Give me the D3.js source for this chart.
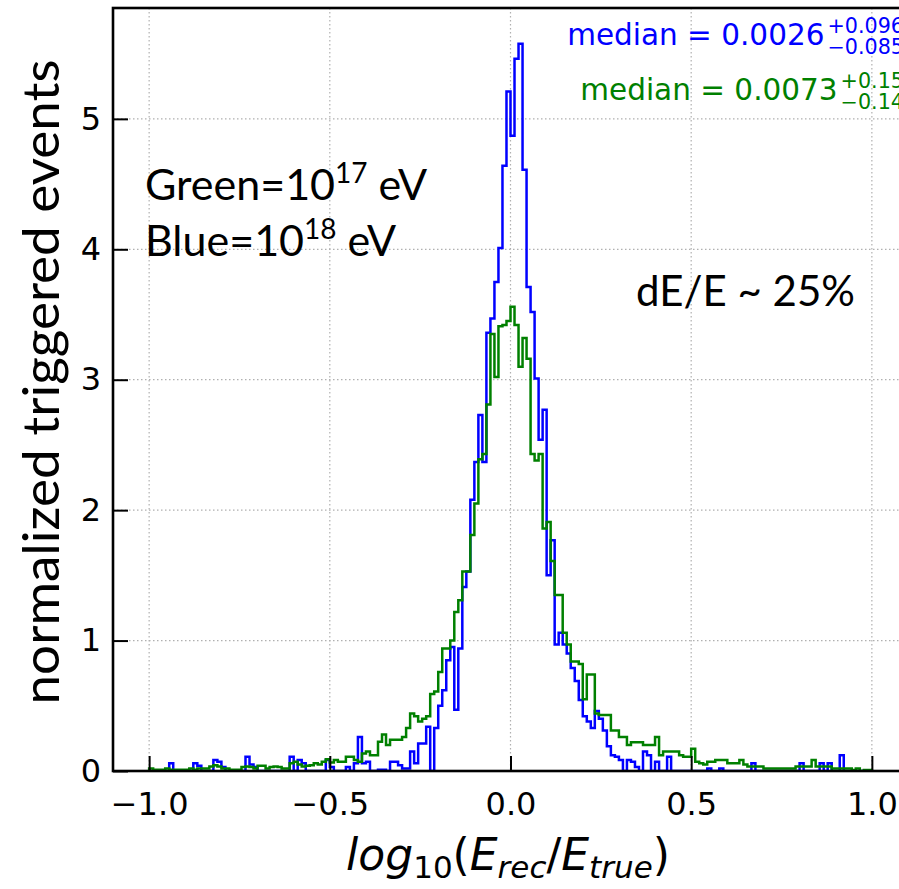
<!DOCTYPE html>
<html>
<head>
<meta charset="utf-8">
<script src="https://cdn.jsdelivr.net/npm/d3@7"></script>
<style>
  body { margin: 0; background: #fff; }
  .tick text { font-family: "DejaVu Sans", sans-serif; }
</style>
</head>
<body>
<div id="chart"></div>
<script>
// 180 equal bins between -1 and 1
let binLow = -1.0;
let binHigh = 1.0;

let blueCounts = [
  0, 0, 0, 0, 0, 0.06, 0, 0, 0, 0,
  0, 0.06, 0.04, 0, 0, 0, 0.085, 0.07, 0.03, 0,
  0, 0, 0, 0, 0.11, 0.05, 0.03, 0, 0, 0,
  0, 0, 0, 0, 0, 0.11, 0, 0.085, 0.06, 0,
  0, 0, 0, 0, 0.085, 0.03, 0, 0, 0, 0.03,
  0, 0.06, 0.26, 0.06, 0.07, 0, 0, 0.01, 0.01, 0,
  0.07, 0.07, 0.045, 0.02, 0.02, 0.15, 0.06, 0.21, 0.21, 0.34,
  0, 0.33, 0.5, 0.62, 0.85, 0.95, 0.47, 0.94, 1.41, 1.53,
  2.08, 2.37, 2.73, 2.37, 3.36, 3.47, 3.75, 4.01, 4.64, 5.21,
  4.87, 5.46, 5.575, 4.61, 3.71, 3.52, 3.01, 2.54, 2.77, 1.50,
  1.77, 0.97, 1.06, 0.97, 0.90, 0.79, 0.69, 0.545, 0.42, 0.38,
  0.33, 0.46, 0.40, 0.31, 0.19, 0.12, 0.11, 0.085, 0, 0.085,
  0.07, 0.03, 0, 0.15, 0.12, 0, 0.07, 0, 0, 0.11,
  0, 0, 0, 0, 0, 0, 0, 0, 0, 0.02,
  0, 0, 0.02, 0, 0, 0, 0, 0, 0, 0,
  0.06, 0, 0, 0, 0, 0, 0, 0, 0, 0,
  0, 0, 0.06, 0, 0, 0, 0, 0.06, 0, 0.06,
  0, 0, 0.12, 0, 0, 0, 0, 0, 0, 0
];

let greenCounts = [
  0.02, 0.01, 0.01, 0.01, 0.02, 0.01, 0.01, 0.01, 0.01, 0.01,
  0.02, 0.01, 0.02, 0.02, 0.02, 0.035, 0.045, 0.035, 0.02, 0.02,
  0.01, 0.01, 0.01, 0.03, 0.035, 0.03, 0.02, 0.04, 0.04, 0.02,
  0.03, 0.035, 0.03, 0.02, 0.02, 0.06, 0.07, 0.05, 0.035, 0.04,
  0.045, 0.06, 0.05, 0.07, 0.09, 0.065, 0.085, 0.07, 0.07, 0.11,
  0.11, 0.085, 0.07, 0.135, 0.15, 0.12, 0.12, 0.225, 0.28, 0.20,
  0.24, 0.24, 0.24, 0.26, 0.33, 0.44, 0.42, 0.38, 0.40, 0.42,
  0.59, 0.61, 0.76, 0.94, 0.94, 1.0, 1.22, 1.31, 1.53, 1.53,
  1.81, 2.05, 2.39, 2.43, 2.81, 3.35, 3.02, 3.41, 3.42, 3.45,
  3.56, 3.42, 3.10, 3.32, 3.16, 2.43, 2.38, 2.43, 1.86, 1.91,
  1.61, 1.35, 1.35, 1.06, 0.97, 0.84, 0.84, 0.82, 0.55, 0.74,
  0.74, 0.44, 0.43, 0.43, 0.43, 0.31, 0.31, 0.26, 0.26, 0.20,
  0.22, 0.22, 0.22, 0.20, 0.20, 0.20, 0.26, 0.12, 0.15, 0.15,
  0.15, 0.15, 0.12, 0.11, 0.11, 0.17, 0.07, 0.06, 0.05, 0.07,
  0.07, 0.085, 0.085, 0.085, 0.06, 0.06, 0.06, 0.085, 0.05, 0.035,
  0.035, 0.035, 0.035, 0.02, 0.02, 0.02, 0.02, 0.02, 0.02, 0.02,
  0.02, 0.035, 0.035, 0.035, 0.035, 0.085, 0.035, 0.035, 0.035, 0.035,
  0.02, 0.02, 0.02, 0.02, 0.02, 0.008, 0.02, 0, 0.008, 0.008
];

let xTicks = [-1.0, -0.5, 0.0, 0.5, 1.0];
let yTicks = [0, 1, 2, 3, 4, 5];

let blueMedian = {value: '0.0026', plus: '+0.096', minus: '\u22120.085'};
let greenMedian = {value: '0.0073', plus: '+0.15', minus: '\u22120.14'};

let blueColor = '#0000ff';
let greenColor = '#008000';

let W = 899, H = 889;
let plot = {left: 113, top: 8, right: 908, bottom: 771};

let svg = d3.select('#chart')
    .append('svg')
    .attr('width', W)
    .attr('height', H);

let xScale = d3.scaleLinear().domain([-1.1, 1.1]).range([plot.left, plot.right]);
let yScale = d3.scaleLinear().domain([0, 5.85]).range([plot.bottom, plot.top]);

svg.append('clipPath').attr('id', 'plotClip')
    .append('rect')
    .attr('x', plot.left).attr('y', plot.top)
    .attr('width', plot.right - plot.left)
    .attr('height', plot.bottom - plot.top);

//dotted grid
let grid = svg.append('g').attr('clip-path', 'url(#plotClip)');
grid.selectAll('line.gx')
    .data(xTicks)
    .enter()
    .append('line')
    .attr('x1', function(d) {return xScale(d)})
    .attr('x2', function(d) {return xScale(d)})
    .attr('y1', plot.top)
    .attr('y2', plot.bottom);
grid.selectAll('line.gy')
    .data(yTicks.slice(1))
    .enter()
    .append('line')
    .attr('x1', plot.left)
    .attr('x2', plot.right)
    .attr('y1', function(d) {return yScale(d)})
    .attr('y2', function(d) {return yScale(d)});
grid.selectAll('line')
    .attr('stroke', '#b0b0b0')
    .attr('stroke-width', 1.2)
    .attr('stroke-dasharray', '1.5,2.5');

//step outline of a histogram, starting and ending on the baseline
let edges = d3.range(blueCounts.length + 1)
    .map(function(i) {return binLow + i * (binHigh - binLow) / blueCounts.length});

let stepPoints = function(counts) {
    let pts = [[edges[0], 0]];
    counts.forEach(function(c, i) {
        pts.push([edges[i], c]);
        pts.push([edges[i + 1], c]);
    });
    pts.push([edges[counts.length], 0]);
    return pts;
};

let line = d3.line()
    .x(function(d) {return xScale(d[0])})
    .y(function(d) {return yScale(d[1])});

let hist = svg.append('g').attr('clip-path', 'url(#plotClip)');
hist.append('path')
    .attr('d', line(stepPoints(blueCounts)))
    .attr('fill', 'none')
    .attr('stroke', blueColor)
    .attr('stroke-width', 2.5)
    .attr('stroke-linejoin', 'miter');
hist.append('path')
    .attr('d', line(stepPoints(greenCounts)))
    .attr('fill', 'none')
    .attr('stroke', greenColor)
    .attr('stroke-width', 2.5)
    .attr('stroke-linejoin', 'miter');

//axes with inward ticks
let xAxis = svg.append('g')
    .attr('transform', 'translate(0,' + plot.bottom + ')')
    .call(d3.axisBottom(xScale).tickValues(xTicks).tickSize(-15).tickPadding(21)
        .tickFormat(d3.format('.1f')));
let yAxis = svg.append('g')
    .attr('transform', 'translate(' + plot.left + ',0)')
    .call(d3.axisLeft(yScale).tickValues(yTicks).tickSize(-15).tickPadding(12)
        .tickFormat(d3.format('d')));
[xAxis, yAxis].forEach(function(ax) {
    ax.select('.domain').remove();
    ax.selectAll('.tick line').attr('stroke', '#000').attr('stroke-width', 2);
    ax.selectAll('.tick text').attr('font-size', 32).attr('fill', '#000');
});

//frame (right side falls outside the picture)
svg.append('rect')
    .attr('x', plot.left).attr('y', plot.top)
    .attr('width', plot.right - plot.left)
    .attr('height', plot.bottom - plot.top)
    .attr('fill', 'none')
    .attr('stroke', '#000')
    .attr('stroke-width', 2.6);

//axis labels
svg.append('text')
    .attr('transform', 'translate(59,382) rotate(-90)')
    .attr('text-anchor', 'middle')
    .attr('font-family', 'Lato, sans-serif')
    .attr('font-size', 50)
    .attr('textLength', 645)
    .attr('lengthAdjust', 'spacingAndGlyphs')
    .text('normalized triggered events');

let xl = svg.append('text')
    .attr('x', 508).attr('y', 870)
    .attr('text-anchor', 'middle')
    .attr('font-family', '"DejaVu Sans", sans-serif')
    .attr('font-size', 44);
xl.append('tspan').attr('font-style', 'italic').text('log');
xl.append('tspan').attr('font-size', 31).attr('dy', 8).text('10');
xl.append('tspan').attr('dy', -8).text('(');
xl.append('tspan').attr('font-style', 'italic').text('E');
xl.append('tspan').attr('font-style', 'italic').attr('font-size', 31).attr('dy', 8).text('rec');
xl.append('tspan').attr('dy', -8).text('/');
xl.append('tspan').attr('font-style', 'italic').text('E');
xl.append('tspan').attr('font-style', 'italic').attr('font-size', 31).attr('dy', 8).text('true');
xl.append('tspan').attr('dy', -8).text(')');

//energy notes
let note = function(y, name, exp) {
    let t = svg.append('text')
        .attr('x', 145).attr('y', y)
        .attr('font-family', 'Lato, sans-serif')
        .attr('font-size', 43);
    t.append('tspan').text(name + '=10');
    t.append('tspan').attr('font-size', 28).attr('dy', -17).text(exp);
    t.append('tspan').attr('dy', 17).text(' eV');
};
note(200, 'Green', '17');
note(256, 'Blue', '18');

svg.append('text')
    .attr('x', 636).attr('y', 306)
    .attr('font-family', 'Lato, sans-serif')
    .attr('font-size', 42)
    .text('dE/E ~ 25%');

//median labels, right aligned, with stacked upper and lower errors
let medianLabel = function(m, y, color) {
    let g = svg.append('g')
        .attr('font-family', '"DejaVu Sans", sans-serif')
        .attr('fill', color);
    let main = g.append('text').attr('y', y).attr('font-size', 29.5)
        .text('median = ' + m.value);
    let up = g.append('text').attr('y', y - 12).attr('font-size', 20.7).text(m.plus);
    let down = g.append('text').attr('y', y + 9).attr('font-size', 20.7).text(m.minus);
    let mw = main.node().getComputedTextLength();
    let ew = Math.max(up.node().getComputedTextLength(), down.node().getComputedTextLength());
    let x0 = 904 - (mw + 3 + ew);
    main.attr('x', x0);
    up.attr('x', x0 + mw + 3);
    down.attr('x', x0 + mw + 3);
};
medianLabel(blueMedian, 45, blueColor);
medianLabel(greenMedian, 100, greenColor);
</script>
</body>
</html>
